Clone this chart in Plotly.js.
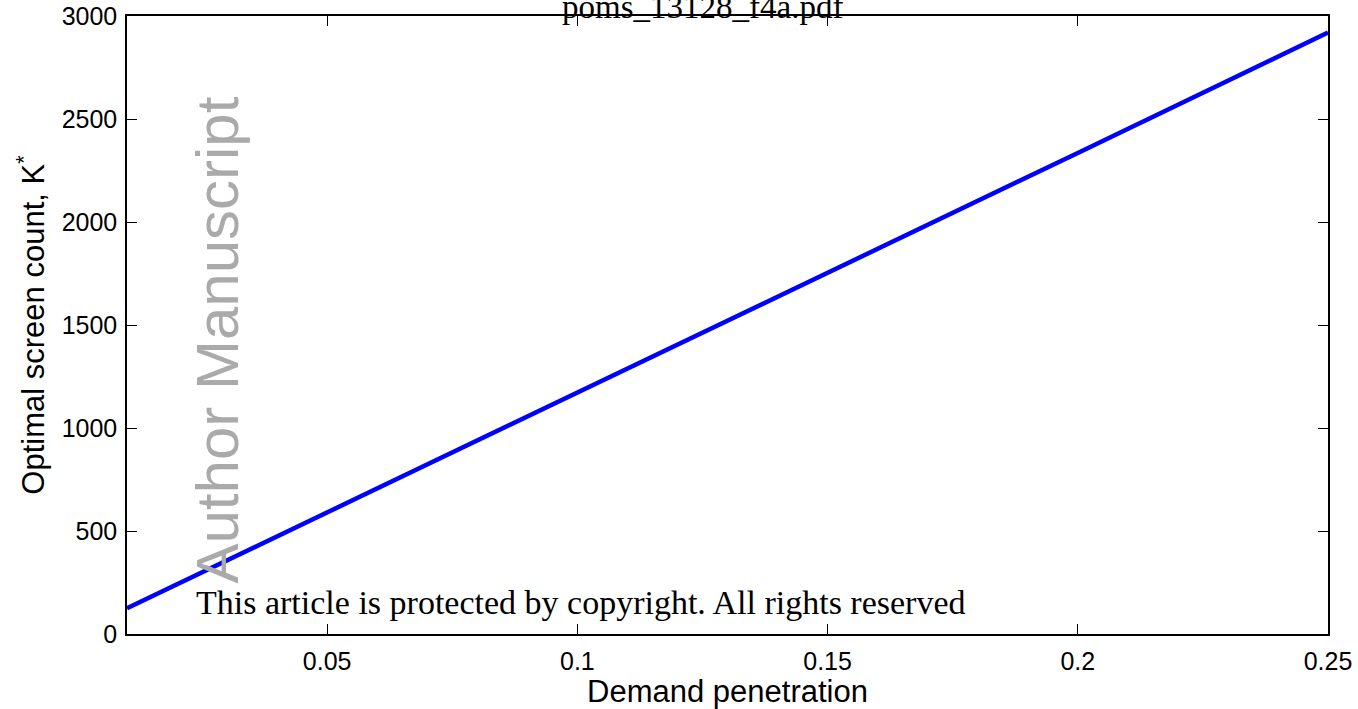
<!DOCTYPE html>
<html>
<head>
<meta charset="utf-8">
<script src="https://cdn.plot.ly/plotly-3.0.1.min.js"></script>
<style>
  html, body { margin: 0; padding: 0; background: #fff; }
  #chart { width: 1358px; height: 709px; }
</style>
</head>
<body>
<div id="chart"></div>
<script>
// Demand penetration vs. optimal screen count K*
const penetration = [0.01, 0.05, 0.10, 0.15, 0.20, 0.25];
const screenCount = [125, 590, 1170, 1755, 2335, 2920];

const xTickVals = [0.05, 0.1, 0.15, 0.2, 0.25];
const xTickText = ['0.05', '0.1', '0.15', '0.2', '0.25'];
const yTickVals = [0, 500, 1000, 1500, 2000, 2500, 3000];
const yTickText = ['0', '500', '1000', '1500', '2000', '2500', '3000'];

const sans = 'Liberation Sans, Arial, sans-serif';
const serif = 'Liberation Serif, DejaVu Serif, serif';

const trace = {
  x: penetration,
  y: screenCount,
  type: 'scatter',
  mode: 'lines',
  line: { color: '#0000ff', width: 4.5 },
  hoverinfo: 'x+y'
};

const axisCommon = {
  showgrid: false,
  zeroline: false,
  showline: true,
  linecolor: '#000',
  linewidth: 1.5,
  mirror: 'ticks',
  ticks: 'inside',
  ticklen: 10,
  tickwidth: 1,
  tickcolor: '#000',
  tickfont: { family: sans, size: 25, color: '#000' }
};

const layout = {
  width: 1358,
  height: 709,
  margin: { l: 127, r: 30, t: 16, b: 75 },
  paper_bgcolor: '#fff',
  plot_bgcolor: '#fff',
  showlegend: false,
  xaxis: Object.assign({}, axisCommon, {
    range: [0.01, 0.25],
    tickmode: 'array',
    tickvals: xTickVals,
    ticktext: xTickText,
    ticklabelstandoff: 4,
    title: { text: 'Demand penetration', font: { family: sans, size: 31, color: '#000' }, standoff: 2 }
  }),
  yaxis: Object.assign({}, axisCommon, {
    range: [0, 3000],
    tickmode: 'array',
    tickvals: yTickVals,
    ticktext: yTickText,
    ticklabelstandoff: 3,
    title: { text: 'Optimal screen count, K<sup>*</sup>', font: { family: sans, size: 31, color: '#000' }, standoff: 8 }
  }),
  annotations: [
    {
      text: 'Author Manuscript',
      xref: 'paper', yref: 'paper',
      x: 0.075, y: 0.475,
      xanchor: 'center', yanchor: 'middle',
      textangle: -90,
      showarrow: false,
      font: { family: sans, size: 60, color: '#aaaaaa' }
    },
    {
      text: 'This article is protected by copyright. All rights reserved',
      xref: 'paper', yref: 'paper',
      x: 0.056, y: 0.017,
      xanchor: 'left', yanchor: 'bottom',
      showarrow: false,
      font: { family: serif, size: 34, color: '#000' }
    },
    {
      text: 'poms_13128_f4a.pdf',
      xref: 'paper', yref: 'paper',
      x: 0.479, y: 1.0,
      xanchor: 'center', yanchor: 'bottom',
      yshift: -11,
      showarrow: false,
      font: { family: serif, size: 33, color: '#000' }
    }
  ]
};

Plotly.newPlot('chart', [trace], layout, { displayModeBar: false });
</script>
</body>
</html>
